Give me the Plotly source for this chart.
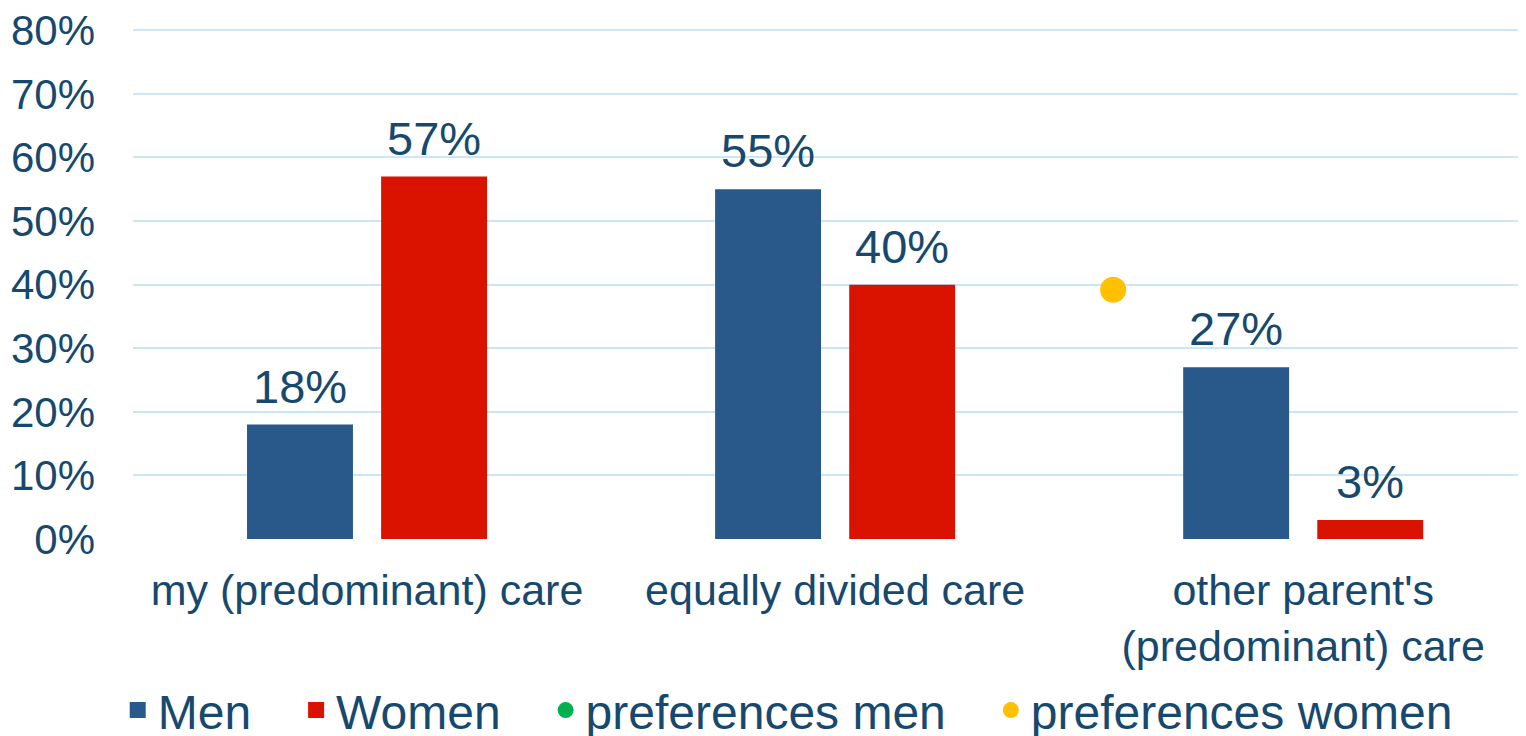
import plotly.graph_objects as go

# Care arrangement categories
categories = ["my (predominant) care", "equally divided care", "other parent's<br>(predominant) care"]
cat_pos = [0, 1, 2]

# Actual arrangement shares (%)
men = [18, 55, 27]
women = [57, 40, 3]

# Preference markers (%), as they appear in the chart (none visible for men)
pref_men_x = [None]
pref_men_y = [None]
pref_women_x = [1.594]
pref_women_y = [39.2]

y_ticks = [0, 10, 20, 30, 40, 50, 60, 70, 80]
y_ticktext = [f"{v}%" for v in y_ticks]

INK = "#17496E"
GRID = "#C9E7F8"
BLUE = "#29598A"
RED = "#DA1300"
GREEN = "#00B050"
YELLOW = "#FFC000"
FONT = "Liberation Sans, Arial, Helvetica, sans-serif"
PAD = "\u00a0" * 3  # extra room after each legend entry

fig = go.Figure()

fig.add_trace(go.Bar(
    x=cat_pos, y=men, name="Men", showlegend=False,
    marker=dict(color=BLUE, line=dict(width=0)),
))
fig.add_trace(go.Bar(
    x=cat_pos, y=women, name="Women", showlegend=False,
    marker=dict(color=RED, line=dict(width=0)),
))
fig.add_trace(go.Scatter(
    x=pref_men_x, y=pref_men_y, name="preferences men" + PAD, mode="markers",
    marker=dict(color=GREEN, size=26), legendrank=3,
))
fig.add_trace(go.Scatter(
    x=pref_women_x, y=pref_women_y, name="preferences women", mode="markers",
    marker=dict(color=YELLOW, size=26), cliponaxis=False, legendrank=4,
))

# legend entries for the bars (square markers read larger than bar swatches)
for name, color, rank in (("Men", BLUE, 1), ("Women", RED, 2)):
    fig.add_trace(go.Scatter(
        x=[None], y=[None], name=name + PAD, mode="markers", legendrank=rank,
        marker=dict(color=color, size=30, symbol="square"),
    ))

# value labels above the bars
for vals, shift in ((men, -67), (women, 67)):
    for x, v in zip(cat_pos, vals):
        fig.add_annotation(
            x=x, y=v, text=f"{v}%", showarrow=False,
            xshift=shift, yshift=10, yanchor="bottom",
            font=dict(size=47, color=INK, family=FONT),
        )

# the page body keeps an 8px margin; the figure is made taller than the
# window so the legend does not push the plot area up
fig.update_layout(
    width=1518, height=760,
    paper_bgcolor="white", plot_bgcolor="white",
    font=dict(family=FONT, color=INK, size=42),
    margin=dict(l=125, r=0, t=21, b=229),
    barmode="group", bargap=0.427, bargroupgap=0.21,
    xaxis=dict(
        range=[-0.5, 2.476], tickvals=cat_pos, ticktext=categories,
        showgrid=False, zeroline=False, showline=False, automargin=False,
        tickfont=dict(size=43, color=INK), ticklabelstandoff=22,
    ),
    yaxis=dict(
        range=[0, 80.2], tickvals=y_ticks, ticktext=y_ticktext,
        gridcolor=GRID, gridwidth=2, zeroline=False, showline=False, automargin=False,
        tickfont=dict(size=42, color=INK), ticklabelstandoff=37,
        ticklabeloverflow="allow",
    ),
    legend=dict(
        orientation="h", x=0.47, xanchor="center", y=-0.336, yanchor="middle",
        font=dict(size=48, color=INK), itemwidth=30,
    ),
    showlegend=True,
)

fig.write_html("out.html")
